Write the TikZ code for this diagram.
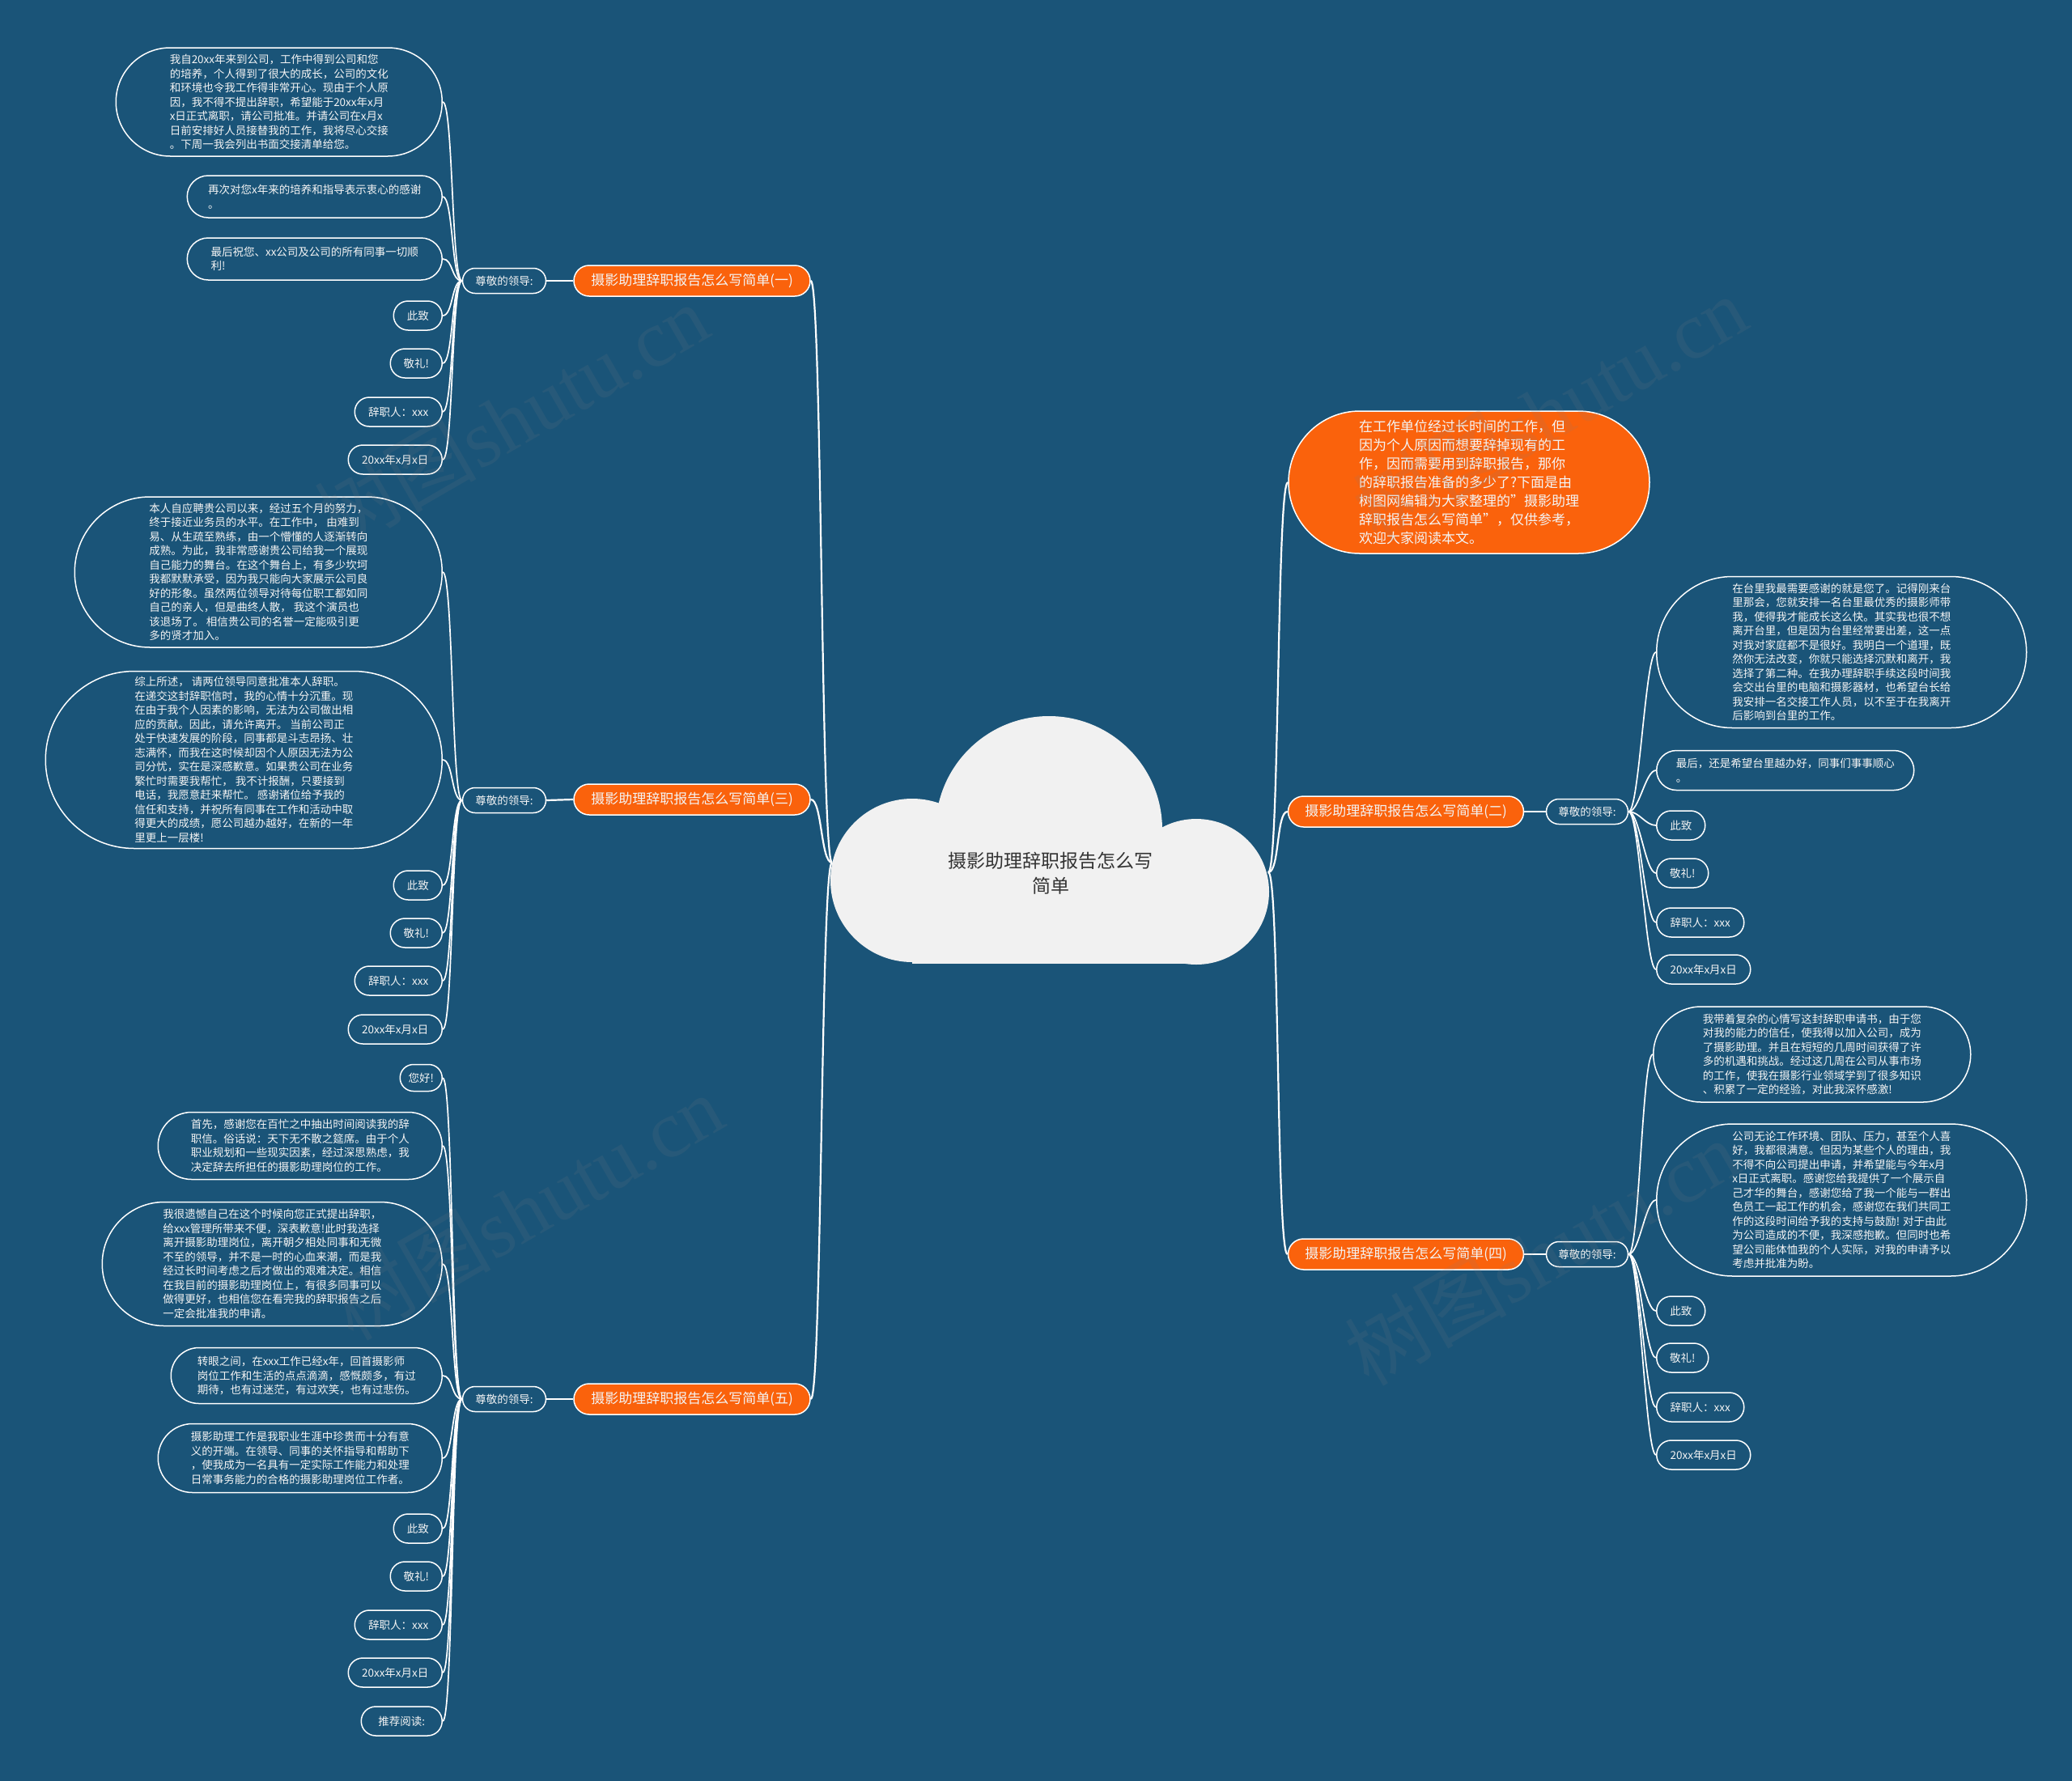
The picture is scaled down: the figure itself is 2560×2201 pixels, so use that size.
\documentclass[tikz,border=0pt]{standalone}
\usepackage{fontspec}
\setmainfont{Noto Sans CJK SC}
\newfontfamily\wmserif{Liberation Serif}
\usetikzlibrary{shapes.misc}
\definecolor{bg}{HTML}{1A5478}
\definecolor{org}{HTML}{FA620C}
\definecolor{cloudc}{HTML}{F1F1F1}
\definecolor{txt}{HTML}{F4F4F4}
\begin{document}
\begin{tikzpicture}[x=1pt,y=-1pt,
  leafbox/.style={rounded rectangle, draw=white, line width=1.5pt, fill=bg, text=txt, inner sep=0pt, align=left, font=\fontsize{13.5}{17.5}\selectfont, minimum height=36pt},
  subbox/.style={leafbox, minimum height=31pt},
  orgbox/.style={rounded rectangle, draw=white, line width=1.5pt, fill=org, text=txt, inner sep=0pt, align=left, font=\fontsize{17}{23}\selectfont, minimum height=38pt},
  mainline/.style={draw=white, line width=2.2pt},
  leafline/.style={draw=white, line width=1.7pt},
  wm/.style={text=gray, opacity=0.13, rotate=30, font=\fontsize{100}{100}\selectfont}]
\useasboundingbox (0,0) rectangle (2560,2201);
\fill[bg] (0,0) rectangle (2560,2201);

% central cloud
\fill[cloudc] (1296,1025) circle (140);
\fill[cloudc] (1127,1088) circle (101);
\fill[cloudc] (1478,1102) circle (90);
\fill[cloudc] (1127,1030) rectangle (1478,1191);
\fill[cloudc] (1180,990) rectangle (1420,1100);
\node[align=center, text=black!80, font=\fontsize{23}{31}\selectfont] (C) at (1298,1079) {摄影助理辞职报告怎么写\\简单};
\coordinate (cl) at (1028,1066);
\coordinate (cr) at (1567,1078);

% ===== branch 1 =====
\node[orgbox, minimum width=292pt] (O1) at (855,347) {摄影助理辞职报告怎么写简单(一)};
\node[subbox, minimum width=103pt] (S1) at (623,347) {尊敬的领导:};
\node[leafbox, anchor=east, minimum width=403pt, minimum height=134pt] (L1a) at (547,126) {我自20xx年来到公司，工作中得到公司和您\\的培养，个人得到了很大的成长，公司的文化\\和环境也令我工作得非常开心。现由于个人原\\因，我不得不提出辞职，希望能于20xx年x月\\x日正式离职，请公司批准。并请公司在x月x\\日前安排好人员接替我的工作，我将尽心交接\\。下周一我会列出书面交接清单给您。};
\node[leafbox, anchor=east, minimum width=315pt, minimum height=52pt] (L1b) at (547,243) {再次对您x年来的培养和指导表示衷心的感谢\\。};
\node[leafbox, anchor=east, minimum width=315pt, minimum height=52pt] (L1c) at (547,320) {最后祝您、xx公司及公司的所有同事一切顺\\利!};
\node[leafbox, anchor=east, minimum width=60pt] (L1d) at (547,390) {此致};
\node[leafbox, anchor=east, minimum width=64pt] (L1e) at (547,449) {敬礼!};
\node[leafbox, anchor=east, minimum width=108pt] (L1f) at (547,509) {辞职人：xxx};
\node[leafbox, anchor=east, minimum width=116pt] (L1g) at (547,568) {20xx年x月x日};

% ===== branch 3 =====
\node[orgbox, minimum width=292pt] (O3) at (855,988) {摄影助理辞职报告怎么写简单(三)};
\node[subbox, minimum width=103pt] (S3) at (623,989) {尊敬的领导:};
\node[leafbox, anchor=east, minimum width=454pt, minimum height=186pt] (L3a) at (547,707) {本人自应聘贵公司以来，经过五个月的努力，\\终于接近业务员的水平。在工作中， 由难到\\易、从生疏至熟练，由一个懵懂的人逐渐转向\\成熟。为此，我非常感谢贵公司给我一个展现\\自己能力的舞台。在这个舞台上，有多少坎坷\\我都默默承受，因为我只能向大家展示公司良\\好的形象。虽然两位领导对待每位职工都如同\\自己的亲人，但是曲终人散， 我这个演员也\\该退场了。 相信贵公司的名誉一定能吸引更\\多的贤才加入。};
\node[leafbox, anchor=east, minimum width=490pt, minimum height=219pt] (L3b) at (547,939) {综上所述， 请两位领导同意批准本人辞职。\\在递交这封辞职信时，我的心情十分沉重。现\\在由于我个人因素的影响，无法为公司做出相\\应的贡献。因此，请允许离开。 当前公司正\\处于快速发展的阶段，同事都是斗志昂扬、壮\\志满怀，而我在这时候却因个人原因无法为公\\司分忧，实在是深感歉意。如果贵公司在业务\\繁忙时需要我帮忙， 我不计报酬，只要接到\\电话，我愿意赶来帮忙。 感谢诸位给予我的\\信任和支持，并祝所有同事在工作和活动中取\\得更大的成绩，愿公司越办越好，在新的一年\\里更上一层楼!};
\node[leafbox, anchor=east, minimum width=60pt] (L3c) at (547,1094) {此致};
\node[leafbox, anchor=east, minimum width=64pt] (L3d) at (547,1153) {敬礼!};
\node[leafbox, anchor=east, minimum width=108pt] (L3e) at (547,1212) {辞职人：xxx};
\node[leafbox, anchor=east, minimum width=116pt] (L3f) at (547,1272) {20xx年x月x日};

% ===== branch 5 =====
\node[orgbox, minimum width=292pt] (O5) at (855,1729) {摄影助理辞职报告怎么写简单(五)};
\node[subbox, minimum width=103pt] (S5) at (623,1729) {尊敬的领导:};
\node[leafbox, anchor=east, minimum width=52pt, minimum height=33pt] (L5a) at (547,1332) {您好!};
\node[leafbox, anchor=east, minimum width=351pt, minimum height=83pt] (L5b) at (547,1416) {首先，感谢您在百忙之中抽出时间阅读我的辞\\职信。俗话说：天下无不散之筵席。由于个人\\职业规划和一些现实因素，经过深思熟虑，我\\决定辞去所担任的摄影助理岗位的工作。};
\node[leafbox, anchor=east, minimum width=420pt, minimum height=153pt] (L5c) at (547,1562) {我很遗憾自己在这个时候向您正式提出辞职，\\给xxx管理所带来不便，深表歉意!此时我选择\\离开摄影助理岗位，离开朝夕相处同事和无微\\不至的领导，并不是一时的心血来潮，而是我\\经过长时间考虑之后才做出的艰难决定。相信\\在我目前的摄影助理岗位上，有很多同事可以\\做得更好，也相信您在看完我的辞职报告之后\\一定会批准我的申请。};
\node[leafbox, anchor=east, minimum width=335pt, minimum height=69pt] (L5d) at (547,1700) {转眼之间，在xxx工作已经x年，回首摄影师\\岗位工作和生活的点点滴滴，感慨颇多，有过\\期待，也有过迷茫，有过欢笑，也有过悲伤。};
\node[leafbox, anchor=east, minimum width=351pt, minimum height=85pt] (L5e) at (547,1802) {摄影助理工作是我职业生涯中珍贵而十分有意\\义的开端。在领导、同事的关怀指导和帮助下\\，使我成为一名具有一定实际工作能力和处理\\日常事务能力的合格的摄影助理岗位工作者。};
\node[leafbox, anchor=east, minimum width=60pt] (L5f) at (547,1889) {此致};
\node[leafbox, anchor=east, minimum width=64pt] (L5g) at (547,1948) {敬礼!};
\node[leafbox, anchor=east, minimum width=108pt] (L5h) at (547,2008) {辞职人：xxx};
\node[leafbox, anchor=east, minimum width=116pt] (L5i) at (547,2067) {20xx年x月x日};
\node[leafbox, anchor=east, minimum width=100pt] (L5j) at (547,2127) {推荐阅读:};

% ===== right intro =====
\node[orgbox, minimum width=446pt, minimum height=176pt] (I) at (1815,596) {在工作单位经过长时间的工作，但\\因为个人原因而想要辞掉现有的工\\作，因而需要用到辞职报告，那你\\的辞职报告准备的多少了?下面是由\\树图网编辑为大家整理的"摄影助理\\辞职报告怎么写简单"，仅供参考，\\欢迎大家阅读本文。};

% ===== branch 2 =====
\node[orgbox, minimum width=291pt] (O2) at (1737,1003) {摄影助理辞职报告怎么写简单(二)};
\node[subbox, minimum width=101pt] (S2) at (1961,1003) {尊敬的领导:};
\node[leafbox, anchor=west, minimum width=457pt, minimum height=187pt] (R2a) at (2046,806) {在台里我最需要感谢的就是您了。记得刚来台\\里那会，您就安排一名台里最优秀的摄影师带\\我，使得我才能成长这么快。其实我也很不想\\离开台里，但是因为台里经常要出差，这一点\\对我对家庭都不是很好。我明白一个道理，既\\然你无法改变，你就只能选择沉默和离开，我\\选择了第二种。在我办理辞职手续这段时间我\\会交出台里的电脑和摄影器材，也希望台长给\\我安排一名交接工作人员，以不至于在我离开\\后影响到台里的工作。};
\node[leafbox, anchor=west, minimum width=318pt, minimum height=49pt] (R2b) at (2046,952) {最后，还是希望台里越办好，同事们事事顺心\\。};
\node[leafbox, anchor=west, minimum width=60pt] (R2c) at (2046,1020) {此致};
\node[leafbox, anchor=west, minimum width=64pt] (R2d) at (2046,1079) {敬礼!};
\node[leafbox, anchor=west, minimum width=108pt] (R2e) at (2046,1140) {辞职人：xxx};
\node[leafbox, anchor=west, minimum width=116pt] (R2f) at (2046,1198) {20xx年x月x日};

% ===== branch 4 =====
\node[orgbox, minimum width=291pt] (O4) at (1737,1550) {摄影助理辞职报告怎么写简单(四)};
\node[subbox, minimum width=101pt] (S4) at (1961,1550) {尊敬的领导:};
\node[leafbox, anchor=west, minimum width=392pt, minimum height=118pt] (R4a) at (2042,1303) {我带着复杂的心情写这封辞职申请书，由于您\\对我的能力的信任，使我得以加入公司，成为\\了摄影助理。并且在短短的几周时间获得了许\\多的机遇和挑战。经过这几周在公司从事市场\\的工作，使我在摄影行业领域学到了很多知识\\、积累了一定的经验，对此我深怀感激!};
\node[leafbox, anchor=west, minimum width=457pt, minimum height=188pt] (R4b) at (2046,1483) {公司无论工作环境、团队、压力，甚至个人喜\\好，我都很满意。但因为某些个人的理由，我\\不得不向公司提出申请，并希望能与今年x月\\x日正式离职。感谢您给我提供了一个展示自\\己才华的舞台，感谢您给了我一个能与一群出\\色员工一起工作的机会，感谢您在我们共同工\\作的这段时间给予我的支持与鼓励! 对于由此\\为公司造成的不便，我深感抱歉。但同时也希\\望公司能体恤我的个人实际，对我的申请予以\\考虑并批准为盼。};
\node[leafbox, anchor=west, minimum width=60pt] (R4c) at (2046,1620) {此致};
\node[leafbox, anchor=west, minimum width=64pt] (R4d) at (2046,1678) {敬礼!};
\node[leafbox, anchor=west, minimum width=108pt] (R4e) at (2046,1739) {辞职人：xxx};
\node[leafbox, anchor=west, minimum width=116pt] (R4f) at (2046,1798) {20xx年x月x日};

% ===== connectors =====
\foreach \o in {O1,O3,O5}
  \draw[mainline] (cl) .. controls +(-14,0) and +(14,0) .. (\o.east);
\foreach \o in {I,O2,O4}
  \draw[mainline] (cr) .. controls +(14,0) and +(-14,0) .. (\o.west);
\draw[mainline] (O1.west) -- (S1.east);
\draw[mainline] (O3.west) -- (S3.east);
\draw[mainline] (O5.west) -- (S5.east);
\draw[mainline] (O2.east) -- (S2.west);
\draw[mainline] (O4.east) -- (S4.west);
\foreach \l in {L1a,L1b,L1c,L1d,L1e,L1f,L1g}
  \draw[leafline] (S1.west) .. controls +(-13,0) and +(13,0) .. (\l.east);
\foreach \l in {L3a,L3b,L3c,L3d,L3e,L3f}
  \draw[leafline] (S3.west) .. controls +(-13,0) and +(13,0) .. (\l.east);
\foreach \l in {L5a,L5b,L5c,L5d,L5e,L5f,L5g,L5h,L5i,L5j}
  \draw[leafline] (S5.west) .. controls +(-13,0) and +(13,0) .. (\l.east);
\foreach \l in {R2a,R2b,R2c,R2d,R2e,R2f}
  \draw[leafline] (S2.east) .. controls +(13,0) and +(-13,0) .. (\l.west);
\foreach \l in {R4a,R4b,R4c,R4d,R4e,R4f}
  \draw[leafline] (S4.east) .. controls +(13,0) and +(-13,0) .. (\l.west);

% ===== watermarks =====
\node[wm] (W1) at (632,515) {树图{\wmserif shutu.cn}};
\node[wm] (W2) at (1915,505) {树图{\wmserif shutu.cn}};
\node[wm] (W3) at (650,1492) {树图{\wmserif shutu.cn}};
\node[wm] (W4) at (1905,1548) {树图{\wmserif shutu.cn}};
\end{tikzpicture}
\end{document}
